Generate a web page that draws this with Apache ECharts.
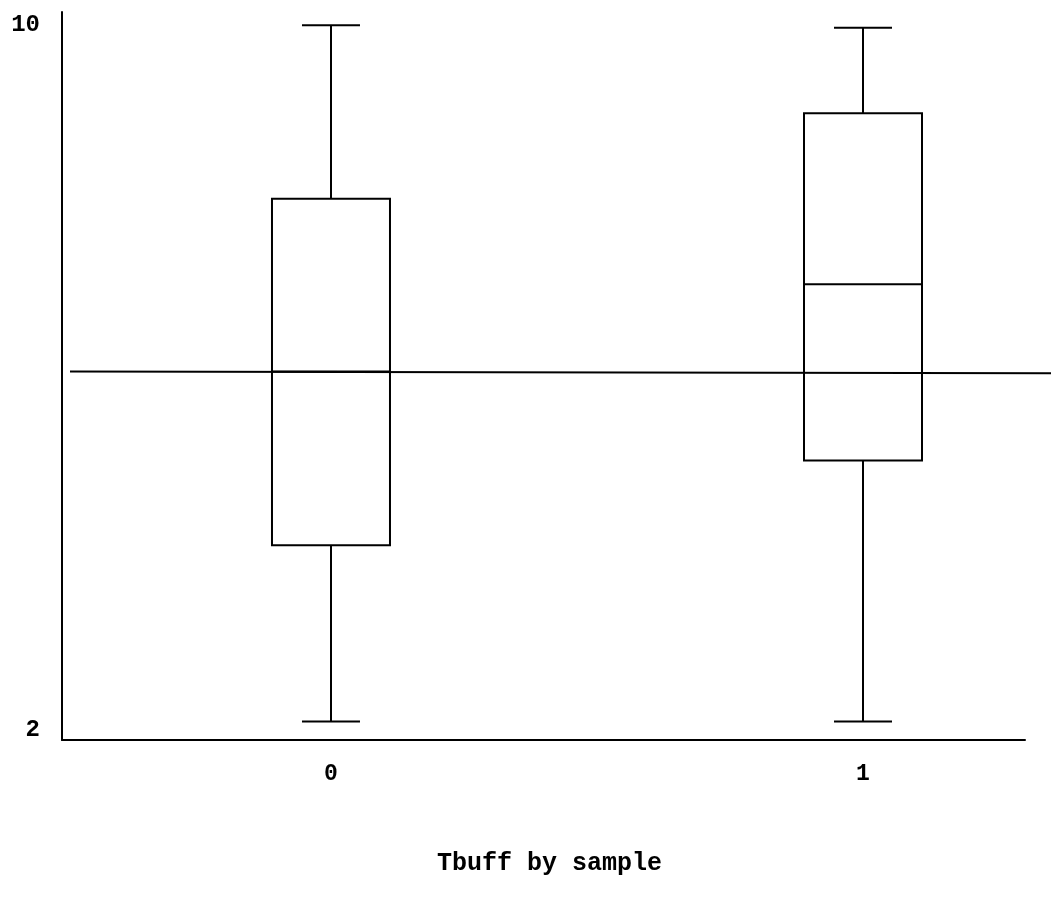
<!DOCTYPE html>
<html>
<head>
<meta charset="utf-8">
<script src="https://cdn.jsdelivr.net/npm/echarts@6/dist/echarts.min.js"></script>
<style>
  html, body { margin: 0; padding: 0; background: #fff; }
  #chart { width: 1051px; height: 909px; }
</style>
</head>
<body>
<div id="chart"></div>
<script>
// 样本类别
var categories = ["0", "1"];
// 箱线数据: [min, Q1, median, Q3, max]
var box0 = [2.1, 4.1, 6.07, 8.03, 10.0];
var box1 = [2.1, 5.06, 7.06, 9.0, 9.97];
// 参考线 (水平线)
var refLine = [6.07, 6.05];
// y轴刻度
var yTicks = [2, 10];
var titleText = "Tbuff by sample";

var boxData = [box0, box1].map(function (b, i) {
  return [i].concat(b);
});

var font = "'Liberation Mono', 'DejaVu Sans Mono', monospace";
var chart = echarts.init(document.getElementById("chart"));

// 自定义箱线图: 须线端帽为箱宽的一半
function renderBox(params, api) {
  var x = api.value(0);
  var p = [1, 2, 3, 4, 5].map(function (d) {
    return api.coord([x, api.value(d)]);
  });
  var cx = p[0][0];
  var half = 59;
  var cap = 29;
  var style = { stroke: "#000", lineWidth: 2, fill: null };
  return {
    type: "group",
    children: [
      { type: "line", shape: { x1: cx, y1: p[0][1], x2: cx, y2: p[1][1] }, style: style },
      { type: "line", shape: { x1: cx, y1: p[3][1], x2: cx, y2: p[4][1] }, style: style },
      { type: "line", shape: { x1: cx - cap, y1: p[0][1], x2: cx + cap, y2: p[0][1] }, style: style },
      { type: "line", shape: { x1: cx - cap, y1: p[4][1], x2: cx + cap, y2: p[4][1] }, style: style },
      { type: "rect", shape: { x: cx - half, y: p[3][1], width: half * 2, height: p[1][1] - p[3][1] }, style: { stroke: "#000", lineWidth: 2, fill: "#fff" } },
      { type: "line", shape: { x1: cx - half, y1: p[2][1], x2: cx + half, y2: p[2][1] }, style: style }
    ]
  };
}

var option = {
  backgroundColor: "#fff",
  animation: false,
  title: {
    text: titleText,
    left: 432,
    top: 846,
    textStyle: {
      fontFamily: font,
      fontWeight: "bold",
      fontSize: 25,
      color: "#000"
    }
  },
  grid: [
    { left: 62, right: 26, top: 12, bottom: 169 },
    { left: 70, right: 0, top: 12, bottom: 169 }
  ],
  xAxis: [
    {
      type: "value",
      gridIndex: 0,
      min: -0.5056,
      max: 1.3045,
      splitLine: { show: false },
      axisTick: { show: false },
      axisLine: { show: true, onZero: false, lineStyle: { color: "#000", width: 2 } },
      axisLabel: {
        customValues: [0, 1],
        formatter: function (v) {
          return categories[Math.round(v)];
        },
        margin: 23,
        fontFamily: font,
        fontWeight: "bold",
        fontSize: 23,
        color: "#000"
      }
    },
    {
      type: "value",
      gridIndex: 1,
      min: 0,
      max: 1,
      show: false
    }
  ],
  yAxis: [
    {
      type: "value",
      gridIndex: 0,
      min: 1.89,
      max: 10.15,
      splitLine: { show: false },
      axisTick: { show: false },
      axisLine: { show: true, onZero: false, lineStyle: { color: "#000", width: 2 } },
      axisLabel: {
        customValues: yTicks,
        margin: 22,
        fontFamily: font,
        fontWeight: "bold",
        fontSize: 24,
        color: "#000"
      }
    },
    {
      type: "value",
      gridIndex: 1,
      min: 1.89,
      max: 10.15,
      show: false
    }
  ],
  series: [
    {
      type: "custom",
      xAxisIndex: 0,
      yAxisIndex: 0,
      renderItem: renderBox,
      data: boxData,
      z: 3
    },
    {
      type: "line",
      xAxisIndex: 1,
      yAxisIndex: 1,
      symbol: "none",
      lineStyle: { color: "#000", width: 2 },
      data: [[0, refLine[0]], [1, refLine[1]]],
      z: 4
    }
  ]
};
chart.setOption(option);
</script>
</body>
</html>
